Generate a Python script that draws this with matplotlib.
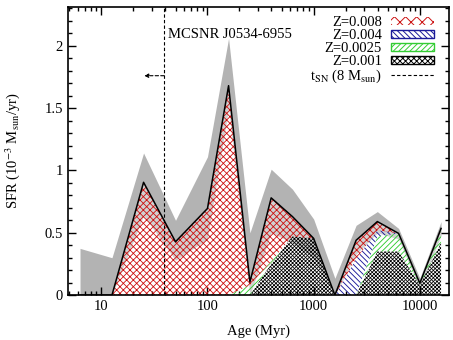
import matplotlib
matplotlib.use("Agg")
import matplotlib.pyplot as plt
import numpy as np
from matplotlib.patches import Patch
from matplotlib.lines import Line2D

# Age bins (Myr)
ages = [6.3, 12.6, 25, 50, 100, 158, 251, 398, 631, 1000, 1585, 2512, 3981, 6310, 10000, 15849]
# SFR components (10^-3 Msun/yr), stacked bottom to top
sfr_z001 = [0, 0, 0, 0, 0, 0, 0, 0.25, 0.47, 0.455, 0, 0, 0.35, 0.35, 0.08, 0.42]
sfr_z0025 = [0, 0, 0, 0, 0, 0, 0.08, 0.02, 0, 0, 0, 0, 0.12, 0.145, 0.015, 0.10]
sfr_z004 = [0, 0, 0, 0, 0, 0, 0, 0, 0, 0, 0, 0.29, 0.05, 0, 0, 0]
sfr_z008 = [0, 0, 0.905, 0.428, 0.695, 1.68, 0.025, 0.51, 0.16, 0, 0, 0.15, 0.07, 0, 0, 0.015]
# error band
err_low = [0, 0, 0.64, 0.28, 0.45, 1.50, 0, 0.50, 0.42, 0.30, 0, 0.33, 0.50, 0.45, 0.05, 0.48]
err_up = [0.375, 0.30, 1.14, 0.60, 1.11, 2.06, 0.50, 1.01, 0.85, 0.61, 0.135, 0.56, 0.67, 0.535, 0.135, 0.59]

t_sn = 39  # Myr
labels = ["Z=0.008", "Z=0.004", "Z=0.0025", "Z=0.001"]

plt.rcParams['font.family'] = ['Liberation Serif', 'DejaVu Serif']
plt.rcParams['mathtext.fontset'] = 'stix'
fs = 10.5

fig = plt.figure(figsize=(4.53, 3.40), dpi=100)
ax = fig.add_axes([0.150, 0.132, 0.841, 0.847])

x = np.array(ages, dtype=float)
c1 = np.array(sfr_z001)
c2 = c1 + np.array(sfr_z0025)
c3 = c2 + np.array(sfr_z004)
c4 = c3 + np.array(sfr_z008)

ax.fill_between(x, err_low, err_up, color='#b3b3b3', lw=0, zorder=1)
ax.fill_between(x, 0, c4, color='white', alpha=0.4, lw=0, zorder=1.5)

red = '#cc1111'
blue = '#1a1a99'
green = '#33cc33'
plt.rcParams['hatch.linewidth'] = 0.55
ax.fill_between(x, 0, c1, facecolor='none', edgecolor='black', hatch='x' * 9, lw=0, zorder=2)
plt.rcParams['hatch.linewidth'] = 0.65
ax.fill_between(x, c1, c2, facecolor='none', edgecolor=green, hatch='/' * 6, lw=0, zorder=2)
ax.fill_between(x, c2, c3, facecolor='none', edgecolor=blue, hatch='\\' * 6, lw=0, zorder=2)
plt.rcParams['hatch.linewidth'] = 0.6
ax.fill_between(x, c3, c4, facecolor='none', edgecolor=red, hatch='x' * 5, lw=0, zorder=2)
ax.plot(x, c4, color='black', lw=1.1, zorder=3)

ax.axvline(t_sn, color='black', ls=(0, (3, 2)), lw=0.8, zorder=4)
ax.annotate('', xy=(t_sn * 0.65, 1.76), xytext=(t_sn, 1.76),
            arrowprops=dict(arrowstyle='-|>', color='black', lw=0.8, ls=(0, (3, 2)),
                            mutation_scale=6, shrinkA=0, shrinkB=0))
ax.text(t_sn * 1.1, 2.09, 'MCSNR J0534-6955', fontsize=fs, ha='left', va='center')

ax.set_xscale('log')
ax.set_xlim(4.85, 18800)
ax.set_ylim(0, 2.31)
ax.set_yticks([0, 0.5, 1, 1.5, 2])
ax.set_yticklabels(['0', '0.5', '1', '1.5', '2'])
ax.set_yticks(np.arange(0, 2.31, 0.1), minor=True)
ax.set_xticks([10, 100, 1000, 10000])
ax.set_xticklabels(['10', '100', '1000', '10000'])
ax.tick_params(which='both', direction='in', top=True, right=True, labelsize=fs)
ax.tick_params(which='major', length=6, width=1)
ax.tick_params(which='minor', length=3, width=1)
for s in ax.spines.values():
    s.set_linewidth(1.2)

ax.set_xlabel('Age (Myr)', fontsize=fs, labelpad=8)
ax.set_ylabel(r'SFR (10$^{-3}$ M$_{\rm sun}$/yr)', fontsize=fs, labelpad=16)

plt.rcParams['hatch.linewidth'] = 0.7
handles = [
    Patch(facecolor='none', edgecolor=red, hatch='xxx', lw=0),
    Patch(facecolor='none', edgecolor=blue, hatch='\\' * 6, lw=1),
    Patch(facecolor='none', edgecolor=green, hatch='/' * 6, lw=1),
    Patch(facecolor='none', edgecolor='black', hatch='x' * 6, lw=1),
    Line2D([0], [0], color='black', ls=(0, (3, 2)), lw=0.8),
]
leg_labels = labels + [r't$_{\rm SN}$ (8 M$_{\rm sun}$)']
ax.legend(handles, leg_labels, loc='upper right', frameon=False, markerfirst=False,
          fontsize=fs, handlelength=3.0, handleheight=0.5, labelspacing=0.0,
          handletextpad=0.6, borderaxespad=0.2, bbox_to_anchor=(0.985, 1.0))

fig.savefig('out.png', dpi=100)
